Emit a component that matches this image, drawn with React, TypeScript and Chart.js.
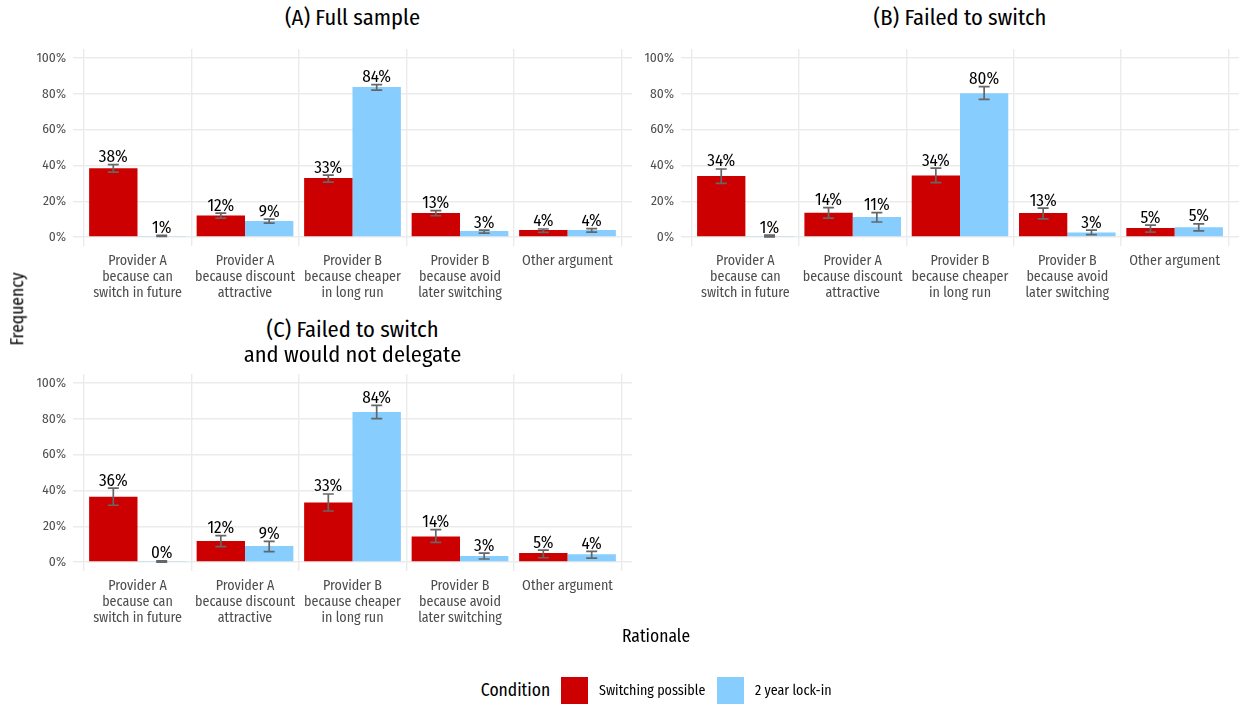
import React, { useEffect, useRef } from "react";
import { Chart, registerables } from "chart.js";
Chart.register(...registerables);

const FONT = "'Fira Sans Condensed', 'Liberation Sans Narrow', 'DejaVu Sans Condensed', 'Roboto Condensed', 'Noto Sans', sans-serif";

const categories = [
  ["Provider A", "because can", "switch in future"],
  ["Provider A", "because discount", "attractive"],
  ["Provider B", "because cheaper", "in long run"],
  ["Provider B", "because avoid", "later switching"],
  ["Other argument"],
];
const xTickValues = [0, 1, 2, 3, 4];
const yTickValues = [0, 20, 40, 60, 80, 100];
const yTickLabels = ["0%", "20%", "40%", "60%", "80%", "100%"];
const seriesNames = ["Switching possible", "2 year lock-in"];
const seriesColors = ["#CC0000", "#87CEFF"];

// (A) Full sample
const switchA = [38.4, 12.1, 33.0, 13.4, 3.9];
const switchALow = [36.3, 10.6, 30.7, 11.9, 2.6];
const switchAHigh = [40.4, 13.4, 34.6, 14.7, 4.5];
const lockA = [0.6, 8.9, 83.8, 3.4, 3.9];
const lockALow = [0.3, 7.8, 82.0, 2.2, 2.8];
const lockAHigh = [1.0, 10.0, 85.1, 3.9, 4.7];

// (B) Failed to switch
const switchB = [34.1, 13.6, 34.4, 13.4, 5.0];
const switchBLow = [30.0, 10.6, 30.4, 10.2, 2.8];
const switchBHigh = [38.0, 16.4, 38.5, 16.2, 6.7];
const lockB = [0.6, 11.2, 80.3, 2.6, 5.4];
const lockBLow = [0.1, 8.4, 76.9, 1.3, 3.4];
const lockBHigh = [1.1, 13.6, 84.0, 3.9, 7.3];

// (C) Failed to switch and would not delegate
const switchC = [36.4, 11.7, 33.3, 14.3, 5.0];
const switchCLow = [31.7, 8.6, 28.5, 11.0, 2.4];
const switchCHigh = [41.3, 14.7, 38.0, 18.1, 6.7];
const lockC = [0.3, 8.9, 83.8, 3.4, 4.4];
const lockCLow = [0.0, 5.8, 80.1, 1.7, 2.2];
const lockCHigh = [0.6, 11.5, 87.5, 5.0, 6.0];

const errorPlugin = {
  id: "errbars",
  afterDatasetsDraw(chart: any) {
    const ctx = chart.ctx;
    const ys = chart.scales.y;
    chart.data.datasets.forEach((ds: any, di: number) => {
      const meta = chart.getDatasetMeta(di);
      meta.data.forEach((bar: any, i: number) => {
        const x = bar.x;
        const yl = ys.getPixelForValue(ds.errLow[i]);
        const yh = ys.getPixelForValue(ds.errHigh[i]);
        ctx.save();
        ctx.strokeStyle = "#666666";
        ctx.lineWidth = 1.7;
        ctx.beginPath();
        ctx.moveTo(x, yl);
        ctx.lineTo(x, yh);
        ctx.moveTo(x - 5.5, yl);
        ctx.lineTo(x + 5.5, yl);
        ctx.moveTo(x - 5.5, yh);
        ctx.lineTo(x + 5.5, yh);
        ctx.stroke();
        ctx.fillStyle = "#000000";
        ctx.font = `17px ${FONT}`;
        ctx.textAlign = "center";
        ctx.textBaseline = "alphabetic";
        ctx.fillText(Math.round(ds.data[i].y) + "%", x, yh - 2.5);
        ctx.restore();
      });
    });
  },
};

function makeDataset(idx: number, vals: number[], lo: number[], hi: number[]) {
  return {
    label: seriesNames[idx],
    data: vals.map((v, i) => ({ x: xTickValues[i], y: v })),
    backgroundColor: seriesColors[idx],
    borderWidth: 0,
    errLow: lo,
    errHigh: hi,
  } as any;
}

function Panel(props: { left: number; top: number; width: number; height: number; datasets: any[] }) {
  const ref = useRef<HTMLCanvasElement>(null);
  useEffect(() => {
    if (!ref.current) return;
    const grid = { color: "#EBEBEB", lineWidth: 1.4, drawTicks: false };
    const chart = new Chart(ref.current, {
      type: "bar",
      data: { datasets: props.datasets },
      plugins: [errorPlugin],
      options: {
        animation: false,
        responsive: false,
        layout: { padding: { top: 9, left: 0, right: 0, bottom: 0 } },
        plugins: { legend: { display: false }, tooltip: { enabled: false } },
        datasets: { bar: { categoryPercentage: 0.9, barPercentage: 1 } },
        scales: {
          x: {
            type: "linear",
            min: -0.6,
            max: 4.6,
            offset: false,
            grid,
            border: { display: false },
            afterBuildTicks: (s: any) => {
              s.ticks = xTickValues.map((v) => ({ value: v }));
            },
            afterFit: (s: any) => {
              s.height = 64;
              s.paddingLeft = 0;
              s.paddingRight = 0;
            },
            ticks: {
              padding: 7,
              color: "#4D4D4D",
              font: { family: FONT, size: 14, lineHeight: 1.15 },
              maxRotation: 0,
              autoSkip: false,
              callback: (v: any) => categories[xTickValues.indexOf(Number(v))] as any,
            },
          },
          y: {
            type: "linear",
            min: -5,
            max: 105,
            grid,
            border: { display: false },
            afterBuildTicks: (s: any) => {
              s.ticks = yTickValues.map((v) => ({ value: v }));
            },
            afterFit: (s: any) => {
              s.width = 73;
              s.paddingTop = 0;
              s.paddingBottom = 0;
            },
            ticks: {
              padding: 7,
              color: "#4D4D4D",
              font: { family: FONT, size: 13.5 },
              callback: (v: any) => yTickLabels[yTickValues.indexOf(Number(v))],
            },
          },
        },
      } as any,
    });
    return () => chart.destroy();
  }, []);
  return (
    <canvas
      ref={ref}
      width={props.width}
      height={props.height}
      style={{ position: "absolute", left: props.left, top: props.top, width: props.width, height: props.height }}
    />
  );
}

const textBase: React.CSSProperties = {
  position: "absolute",
  whiteSpace: "nowrap",
  fontFamily: FONT,
  color: "#000",
  lineHeight: 1,
  transform: "translate(-50%, -50%)",
};

export default function App() {
  return (
    <div style={{ position: "absolute", left: 0, top: 0, width: 1239, height: 704, background: "#fff", overflow: "hidden" }}>
      <Panel left={0} top={40} width={632} height={270}
        datasets={[makeDataset(0, switchA, switchALow, switchAHigh), makeDataset(1, lockA, lockALow, lockAHigh)]} />
      <Panel left={608} top={40} width={631} height={270}
        datasets={[makeDataset(0, switchB, switchBLow, switchBHigh), makeDataset(1, lockB, lockBLow, lockBHigh)]} />
      <Panel left={0} top={365} width={632} height={270}
        datasets={[makeDataset(0, switchC, switchCLow, switchCHigh), makeDataset(1, lockC, lockCLow, lockCHigh)]} />

      <div style={{ ...textBase, left: 352.5, top: 18, fontSize: 22.5, fontWeight: 400 }}>(A) Full sample</div>
      <div style={{ ...textBase, left: 960, top: 18, fontSize: 22.5, fontWeight: 400 }}>(B) Failed to switch</div>
      <div style={{ ...textBase, left: 352.5, top: 330, fontSize: 22.5, fontWeight: 400 }}>(C) Failed to switch</div>
      <div style={{ ...textBase, left: 352.5, top: 355, fontSize: 22.5, fontWeight: 400 }}>and would not delegate</div>

      <div style={{ ...textBase, left: 18, top: 309, fontSize: 17.5, transform: "translate(-50%, -50%) rotate(-90deg)" }}>Frequency</div>
      <div style={{ ...textBase, left: 656, top: 637, fontSize: 17.5 }}>Rationale</div>

      <div style={{ ...textBase, left: 515.5, top: 691, fontSize: 17.5 }}>Condition</div>
      <div style={{ position: "absolute", left: 561, top: 677, width: 27, height: 27, background: seriesColors[0] }} />
      <div style={{ ...textBase, left: 599, top: 691, fontSize: 14, transform: "translate(0, -50%)" }}>{seriesNames[0]}</div>
      <div style={{ position: "absolute", left: 717, top: 677, width: 27, height: 27, background: seriesColors[1] }} />
      <div style={{ ...textBase, left: 755, top: 691, fontSize: 14, transform: "translate(0, -50%)" }}>{seriesNames[1]}</div>
    </div>
  );
}
